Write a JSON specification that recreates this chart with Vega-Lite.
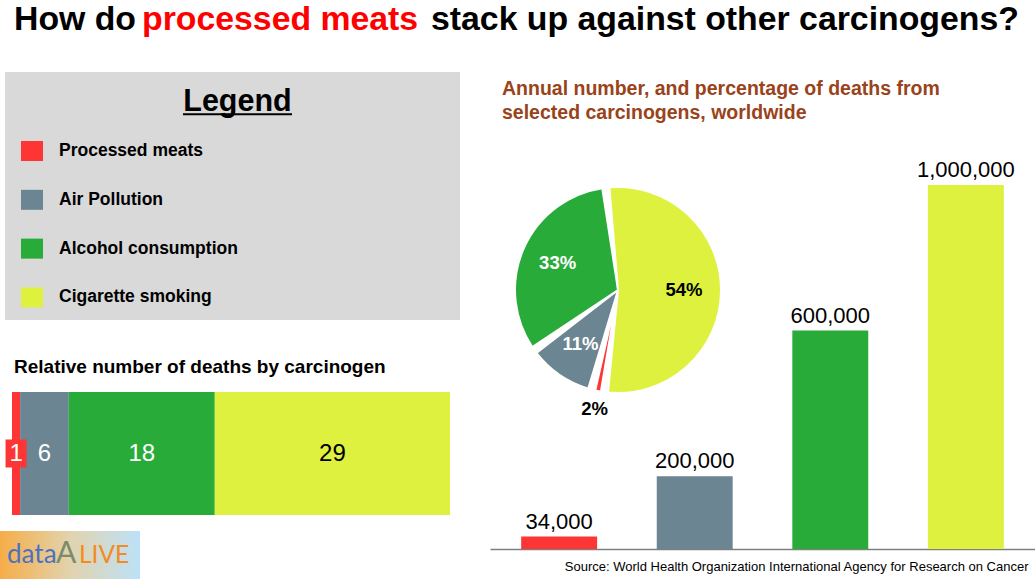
{
  "$schema": "https://vega.github.io/schema/vega-lite/v6.json",
  "padding": 0,
  "background": "white",
  "config": {
    "font": "Liberation Sans",
    "view": {"stroke": null},
    "axis": {"grid": false}
  },
  "datasets": {
    "carcinogens": [
      {"carcinogen": "Processed meats", "deaths": 34000, "share": 0.02, "relative": 1},
      {"carcinogen": "Air Pollution", "deaths": 200000, "share": 0.11, "relative": 6},
      {"carcinogen": "Alcohol consumption", "deaths": 600000, "share": 0.33, "relative": 18},
      {"carcinogen": "Cigarette smoking", "deaths": 1000000, "share": 0.54, "relative": 29}
    ],
    "one": [{}]
  },
  "spacing": 32,
  "vconcat": [
    {
      "width": 1035,
      "height": 40,
      "data": {"name": "one"},
      "layer": [
        {
          "mark": {"type": "text", "text": "How do", "align": "left", "baseline": "alphabetic", "fontSize": 33.8, "fontWeight": "bold", "color": "#000000"},
          "encoding": {
            "x": {"datum": 14, "type": "quantitative", "scale": {"domain": [0, 1035]}, "axis": null},
            "y": {"datum": 30, "type": "quantitative", "scale": {"domain": [0, 40], "reverse": true}, "axis": null}
          }
        },
        {
          "mark": {"type": "text", "text": "processed meats", "align": "left", "baseline": "alphabetic", "fontSize": 33.8, "fontWeight": "bold", "color": "#ff0000"},
          "encoding": {
            "x": {"datum": 142, "type": "quantitative", "scale": {"domain": [0, 1035]}, "axis": null},
            "y": {"datum": 30, "type": "quantitative", "scale": {"domain": [0, 40], "reverse": true}, "axis": null}
          }
        },
        {
          "mark": {"type": "text", "text": "stack up against other carcinogens?", "align": "left", "baseline": "alphabetic", "fontSize": 33.8, "fontWeight": "bold", "color": "#000000"},
          "encoding": {
            "x": {"datum": 431, "type": "quantitative", "scale": {"domain": [0, 1035]}, "axis": null},
            "y": {"datum": 30, "type": "quantitative", "scale": {"domain": [0, 40], "reverse": true}, "axis": null}
          }
        }
      ]
    },
    {
      "spacing": 30,
      "hconcat": [
        {
          "spacing": 16,
          "vconcat": [
            {
              "width": 460,
              "height": 270,
              "resolve": {"scale": {"y": "independent"}},
              "layer": [
                {
                  "data": {"name": "one"},
                  "mark": {"type": "rect", "color": "#d9d9d9"},
                  "encoding": {
                    "x": {"datum": 5, "type": "quantitative", "scale": {"domain": [0, 460], "nice": false}, "axis": null},
                    "x2": {"datum": 460},
                    "y": {"datum": 0, "type": "quantitative", "scale": {"domain": [0, 270], "reverse": true, "nice": false}, "axis": null},
                    "y2": {"datum": 248}
                  }
                },
                {
                  "data": {"name": "one"},
                  "mark": {"type": "text", "text": "Legend", "fontSize": 30.5, "fontWeight": "bold", "color": "#000000", "baseline": "middle", "align": "center"},
                  "encoding": {
                    "x": {"datum": 237.5, "type": "quantitative", "scale": {"domain": [0, 460], "nice": false}, "axis": null},
                    "y": {"datum": "Legend", "type": "nominal", "scale": {"type": "point", "domain": ["Legend", "Processed meats", "Air Pollution", "Alcohol consumption", "Cigarette smoking"], "padding": 0.7664, "align": 0.404}, "axis": null}
                  }
                },
                {
                  "data": {"name": "one"},
                  "mark": {"type": "rule", "yOffset": 12, "strokeWidth": 2, "color": "#000000"},
                  "encoding": {
                    "x": {"datum": 183, "type": "quantitative", "scale": {"domain": [0, 460], "nice": false}, "axis": null},
                    "x2": {"datum": 292},
                    "y": {"datum": "Legend", "type": "nominal", "scale": {"type": "point", "domain": ["Legend", "Processed meats", "Air Pollution", "Alcohol consumption", "Cigarette smoking"], "padding": 0.7664, "align": 0.404}, "axis": null}
                  }
                },
                {
                  "data": {"name": "carcinogens"},
                  "mark": {"type": "point", "shape": "M-1.1,-1H1.1V1H-1.1Z", "size": 400, "filled": true, "opacity": 1, "strokeWidth": 0},
                  "encoding": {
                    "x": {"datum": 32, "type": "quantitative", "scale": {"domain": [0, 460], "nice": false}, "axis": null},
                    "y": {"field": "carcinogen", "type": "nominal", "scale": {"type": "point", "domain": ["Legend", "Processed meats", "Air Pollution", "Alcohol consumption", "Cigarette smoking"], "padding": 0.7664, "align": 0.404}, "axis": null},
                    "color": {"field": "carcinogen", "type": "nominal", "scale": {"domain": ["Processed meats", "Air Pollution", "Alcohol consumption", "Cigarette smoking"], "range": ["#fe3535", "#6b8592", "#29ab3a", "#dff13f"]}, "legend": null}
                  }
                },
                {
                  "data": {"name": "carcinogens"},
                  "mark": {"type": "text", "align": "left", "baseline": "middle", "fontSize": 17.5, "fontWeight": "bold", "color": "#000000"},
                  "encoding": {
                    "x": {"datum": 59, "type": "quantitative", "scale": {"domain": [0, 460], "nice": false}, "axis": null},
                    "y": {"field": "carcinogen", "type": "nominal", "scale": {"type": "point", "domain": ["Legend", "Processed meats", "Air Pollution", "Alcohol consumption", "Cigarette smoking"], "padding": 0.7664, "align": 0.404}, "axis": null},
                    "text": {"field": "carcinogen", "type": "nominal"}
                  }
                }
              ]
            },
            {
              "width": 450,
              "height": 123,
              "title": {"text": "Relative number of deaths by carcinogen", "anchor": "start", "frame": "group", "fontSize": 19, "fontWeight": "bold", "color": "#000000", "offset": 15, "dx": 14},
              "data": {"name": "carcinogens"},
              "encoding": {
                "y": {"datum": "all", "type": "nominal", "scale": {"paddingInner": 0, "paddingOuter": 0}, "axis": null},
                "x": {"field": "relative", "type": "quantitative", "stack": "zero", "scale": {"domain": [-1.479, 54], "nice": false, "zero": false}, "axis": null},
                "order": {"field": "relative", "type": "quantitative"}
              },
              "layer": [
                {
                  "mark": {"type": "bar"},
                  "encoding": {
                    "color": {"field": "carcinogen", "type": "nominal", "scale": {"domain": ["Processed meats", "Air Pollution", "Alcohol consumption", "Cigarette smoking"], "range": ["#fe3535", "#6b8592", "#29ab3a", "#dff13f"]}, "legend": null}
                  }
                },
                {
                  "transform": [{"filter": "datum.relative == 1"}],
                  "mark": {"type": "point", "shape": "M-0.75,-1H0.75V1H-0.75Z", "size": 784, "filled": true, "opacity": 1, "color": "#fe3535", "strokeWidth": 0},
                  "encoding": {
                    "x": {"field": "relative", "type": "quantitative", "stack": "zero", "bandPosition": 0.5, "scale": {"domain": [-1.479, 54], "nice": false, "zero": false}, "axis": null}
                  }
                },
                {
                  "mark": {"type": "text", "fontSize": 24, "baseline": "middle"},
                  "encoding": {
                    "x": {"field": "relative", "type": "quantitative", "stack": "zero", "bandPosition": 0.5, "scale": {"domain": [-1.479, 54], "nice": false, "zero": false}, "axis": null},
                    "text": {"field": "relative", "type": "quantitative"},
                    "color": {"condition": {"test": "datum.relative > 20", "value": "#000000"}, "value": "#ffffff"}
                  }
                }
              ]
            },
            {
              "width": 140,
              "height": 48,
              "data": {"name": "one"},
              "layer": [
                {
                  "mark": {"type": "rect", "color": {"gradient": "linear", "x1": 0, "y1": 0, "x2": 1, "y2": 0, "stops": [{"offset": 0, "color": "#f6ad48"}, {"offset": 0.5, "color": "#e2d3ad"}, {"offset": 1, "color": "#bde1f8"}]}},
                  "encoding": {
                    "x": {"datum": 0, "type": "quantitative", "scale": {"domain": [0, 140]}, "axis": null},
                    "x2": {"datum": 140},
                    "y": {"datum": 0, "type": "quantitative", "scale": {"domain": [0, 48], "reverse": true}, "axis": null},
                    "y2": {"datum": 48}
                  }
                },
                {
                  "mark": {"type": "text", "text": "data", "font": "Lato", "fontSize": 26, "color": "#4a72c2", "align": "left", "baseline": "alphabetic"},
                  "encoding": {
                    "x": {"datum": 7, "type": "quantitative", "scale": {"domain": [0, 140]}, "axis": null},
                    "y": {"datum": 32, "type": "quantitative", "scale": {"domain": [0, 48], "reverse": true}, "axis": null}
                  }
                },
                {
                  "mark": {"type": "text", "text": "A", "font": "Lato", "fontSize": 30, "color": "#7b8b6e", "align": "left", "baseline": "alphabetic"},
                  "encoding": {
                    "x": {"datum": 56, "type": "quantitative", "scale": {"domain": [0, 140]}, "axis": null},
                    "y": {"datum": 32, "type": "quantitative", "scale": {"domain": [0, 48], "reverse": true}, "axis": null}
                  }
                },
                {
                  "mark": {"type": "text", "text": "LIVE", "font": "Lato", "fontSize": 24.5, "color": "#f28c1e", "align": "left", "baseline": "alphabetic"},
                  "encoding": {
                    "x": {"datum": 79, "type": "quantitative", "scale": {"domain": [0, 140]}, "axis": null},
                    "y": {"datum": 32, "type": "quantitative", "scale": {"domain": [0, 48], "reverse": true}, "axis": null}
                  }
                }
              ]
            }
          ]
        },
        {
          "spacing": 8,
          "vconcat": [
            {
              "width": 545,
              "height": 50,
              "data": {"name": "one"},
              "mark": {"type": "text", "text": ["Annual number, and percentage of deaths from", "selected carcinogens, worldwide"], "lineHeight": 23.5, "align": "left", "baseline": "alphabetic", "fontSize": 19.5, "fontWeight": "bold", "color": "#99431a"},
              "encoding": {
                "x": {"datum": 12, "type": "quantitative", "scale": {"domain": [0, 545]}, "axis": null},
                "y": {"datum": 23, "type": "quantitative", "scale": {"domain": [0, 50], "reverse": true}, "axis": null}
              }
            },
            {
              "width": 545,
              "height": 419,
              "data": {"name": "carcinogens"},
              "resolve": {"scale": {"x": "independent"}},
              "layer": [
                {
                  "encoding": {
                    "x": {"field": "carcinogen", "type": "nominal", "sort": ["Processed meats", "Air Pollution", "Alcohol consumption", "Cigarette smoking"], "scale": {"paddingInner": 0.44, "paddingOuter": 0.23}, "axis": {"labels": false, "ticks": false, "domain": true, "domainColor": "#7f7f7f", "domainWidth": 1.5, "title": "Source: World Health Organization International Agency for Research on Cancer", "titleFontSize": 13, "titleFontWeight": "normal", "titleColor": "#000000", "titleAnchor": "end", "titleAlign": "right", "titleX": 538, "titlePadding": 11, "titleFont": "Liberation Sans"}},
                    "y": {"field": "deaths", "type": "quantitative", "scale": {"domain": [0, 1151000], "nice": false}, "axis": null}
                  },
                  "layer": [
                    {
                      "mark": {"type": "bar"},
                      "encoding": {
                        "color": {"field": "carcinogen", "type": "nominal", "scale": {"domain": ["Processed meats", "Air Pollution", "Alcohol consumption", "Cigarette smoking"], "range": ["#fe3535", "#6b8592", "#29ab3a", "#dff13f"]}, "legend": null}
                      }
                    },
                    {
                      "mark": {"type": "text", "baseline": "alphabetic", "dy": -8, "fontSize": 22, "color": "#000000"},
                      "encoding": {
                        "text": {"field": "deaths", "type": "quantitative", "format": ","}
                      }
                    }
                  ]
                },
                {
                  "encoding": {
                    "x": {"datum": 0.2349, "type": "quantitative", "scale": {"domain": [0, 1]}, "axis": null},
                    "y": {"datum": 711500, "type": "quantitative", "scale": {"domain": [0, 1151000], "nice": false}, "axis": null},
                    "theta": {"field": "share", "type": "quantitative", "stack": true, "scale": {"range": [3.274, 9.557]}},
                    "order": {"field": "share", "type": "quantitative"}
                  },
                  "layer": [
                    {
                      "mark": {"type": "arc", "radius": 103, "padAngle": 0.07, "stroke": "#ffffff", "strokeWidth": 2},
                      "encoding": {
                        "color": {"field": "carcinogen", "type": "nominal", "scale": {"domain": ["Processed meats", "Air Pollution", "Alcohol consumption", "Cigarette smoking"], "range": ["#fe3535", "#6b8592", "#29ab3a", "#dff13f"]}, "legend": null}
                      }
                    },
                    {
                      "mark": {"type": "text", "radius": 66, "fontSize": 18.5, "fontWeight": "bold", "baseline": "middle"},
                      "encoding": {
                        "text": {"condition": {"test": "datum.share < 0.05", "value": ""}, "field": "share", "type": "quantitative", "format": ".0%"},
                        "color": {"condition": {"test": "datum.share > 0.5", "value": "#000000"}, "value": "#ffffff"}
                      }
                    },
                    {
                      "mark": {"type": "text", "radius": 121, "fontSize": 18.5, "fontWeight": "bold", "baseline": "middle", "color": "#000000"},
                      "encoding": {
                        "text": {"condition": {"test": "datum.share > 0.05", "value": ""}, "field": "share", "type": "quantitative", "format": ".0%"}
                      }
                    }
                  ]
                }
              ]
            }
          ]
        }
      ]
    }
  ]
}
